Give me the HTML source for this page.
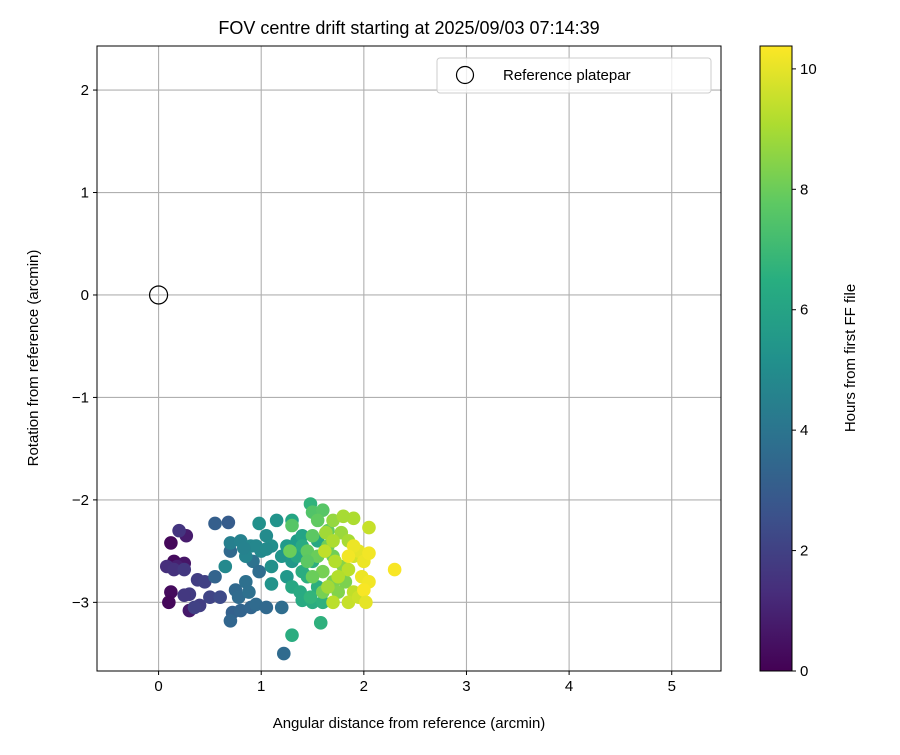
<!DOCTYPE html>
<html><head><meta charset="utf-8"><style>
body{margin:0;background:#fff}
text{font-family:"Liberation Sans","DejaVu Sans",sans-serif;fill:#000}
</style></head><body>
<svg id="chart" width="900" height="750" xmlns="http://www.w3.org/2000/svg">
<defs>
<linearGradient id="vir" x1="0" y1="1" x2="0" y2="0">
<stop offset="0" stop-color="#440154"/><stop offset="0.125" stop-color="#472d7b"/><stop offset="0.25" stop-color="#3b528b"/><stop offset="0.375" stop-color="#2c728e"/><stop offset="0.5" stop-color="#21918c"/><stop offset="0.625" stop-color="#28ae80"/><stop offset="0.75" stop-color="#5ec962"/><stop offset="0.875" stop-color="#addc30"/><stop offset="1" stop-color="#fde725"/>
</linearGradient>
<clipPath id="clip"><rect x="97" y="46" width="624" height="625"/></clipPath>
</defs>
<g id="grid"></g>
<g id="pts" clip-path="url(#clip)"></g>
<rect x="97" y="46" width="624" height="625" fill="none" stroke="#000" stroke-width="1"/>
<g id="axes"></g>
<text x="409" y="34" font-size="18" text-anchor="middle">FOV centre drift starting at 2025/09/03 07:14:39</text>
<text x="409" y="728" font-size="15" text-anchor="middle">Angular distance from reference (arcmin)</text>
<text transform="translate(38,358) rotate(-90)" font-size="15" text-anchor="middle">Rotation from reference (arcmin)</text>
<g>
<rect x="437" y="58" width="274" height="35" rx="3" fill="#fff" fill-opacity="0.8" stroke="#ccc"/>
<circle cx="465" cy="75" r="8.5" fill="none" stroke="#000" stroke-width="1.2"/>
<text x="503" y="80" font-size="15">Reference platepar</text>
</g>
<rect x="760" y="46" width="32" height="625" fill="url(#vir)" stroke="#000" stroke-width="1"/>
<g id="cbticks"></g>
<text transform="translate(855,358) rotate(-90)" font-size="15" text-anchor="middle">Hours from first FF file</text>
</svg>
<script>
const xTicks=[0,1,2,3,4,5];
const yTicks=[2,1,0,-1,-2,-3];
const cbTicks=[0,2,4,6,8,10];
const refPoint=[0,0];
const xs=[0.12,0.15,0.12,0.1,0.25,0.3,0.27,0.18,
0.2,0.08,0.15,0.25,0.3,0.25,0.38,0.45,0.4,0.5,0.35,0.6,
0.55,0.68,0.55,0.72,0.7,0.8,0.75,0.9,0.95,1.05,1.22,1.2,0.85,0.92,0.7,0.98,0.78,0.88,
0.7,0.8,0.85,0.9,1.0,1.05,1.1,0.98,1.15,0.95,1.05,0.65,1.2,1.1,1.1,1.25,1.3,1.25,1.35,0.83,
1.3,1.4,1.3,1.38,1.4,1.5,1.45,1.55,1.6,1.55,1.35,1.4,1.5,1.3,1.58,1.48,1.48,1.4,
1.3,1.5,1.6,1.55,1.65,1.5,1.45,1.55,1.65,1.7,1.6,1.7,1.5,1.45,1.75,1.82,1.6,1.28,1.8,
1.7,1.78,1.85,1.9,1.63,1.72,1.85,1.9,1.75,1.65,1.7,1.85,1.95,1.8,2.05,1.62,1.7,1.9,
1.95,2.0,2.05,1.98,2.05,2.0,2.02,2.3,1.9,1.85];
const ys=[-2.42,-2.6,-2.9,-3.0,-2.62,-3.08,-2.35,-2.65,
-2.3,-2.65,-2.68,-2.68,-2.92,-2.93,-2.78,-2.8,-3.03,-2.95,-3.05,-2.95,
-2.23,-2.22,-2.75,-3.1,-3.18,-3.08,-2.88,-3.05,-3.02,-3.05,-3.5,-3.05,-2.8,-2.6,-2.5,-2.7,-2.95,-2.9,
-2.42,-2.4,-2.55,-2.45,-2.5,-2.35,-2.45,-2.23,-2.2,-2.45,-2.48,-2.65,-2.55,-2.65,-2.82,-2.75,-2.6,-2.45,-2.4,-2.47,
-2.2,-2.35,-2.85,-2.9,-2.98,-3.0,-2.75,-2.85,-3.0,-2.4,-2.55,-2.7,-2.6,-3.32,-3.2,-2.04,-2.95,-2.45,
-2.25,-2.12,-2.1,-2.2,-2.3,-2.35,-2.5,-2.55,-2.45,-2.55,-2.7,-2.8,-2.75,-2.6,-2.9,-2.8,-2.9,-2.5,-2.65,
-2.2,-2.32,-2.4,-2.18,-2.32,-2.6,-2.68,-2.9,-2.75,-2.85,-3.0,-3.0,-2.95,-2.16,-2.27,-2.5,-2.4,-2.55,
-2.5,-2.6,-2.52,-2.75,-2.8,-2.88,-3.0,-2.68,-2.45,-2.55];
const hours=[0.2,0.3,0.3,0.2,0.6,0.7,0.8,0.9,
1.6,1.4,1.5,1.7,1.8,1.7,1.9,2.0,1.9,2.1,2.0,2.3,
3.1,3.0,3.3,3.2,3.4,3.3,3.5,3.4,3.6,3.5,3.6,3.7,3.8,3.9,3.5,3.7,3.6,3.8,
4.5,4.6,4.7,4.8,4.9,5.0,5.1,5.2,5.3,4.8,5.0,4.9,5.4,5.2,5.3,5.5,5.5,5.6,5.7,4.6,
6.1,6.0,6.2,6.3,6.3,6.4,6.5,6.5,6.6,6.2,6.1,6.4,6.5,6.4,6.6,6.7,6.8,6.3,
7.6,7.5,7.6,7.8,7.9,7.7,7.8,8.0,8.1,8.1,8.2,8.3,8.0,7.7,8.4,8.3,8.2,8.0,8.5,
8.7,8.8,9.0,9.1,8.9,9.2,9.3,9.4,9.2,8.9,9.3,9.5,9.6,9.0,9.5,9.4,9.1,9.7,
10.0,10.1,10.2,10.1,10.2,10.3,10.0,10.3,10.1,10.2];
const NS="http://www.w3.org/2000/svg";
const X0=-0.6,X1=5.48,Y0=-3.67,Y1=2.43,L=97,R=721,T=46,B=671;
function sx(v){return L+(v-X0)/(X1-X0)*(R-L);}
function sy(v){return B-(v-Y0)/(Y1-Y0)*(B-T);}
function cy(v){return 671-v/10.38*625;}
const vir=[[68,1,84],[72,40,120],[62,74,137],[49,104,142],[38,130,142],[31,158,137],[53,183,121],[110,206,88],[181,222,43],[253,231,37]];
function color(h){let t=Math.max(0,Math.min(1,h/10.38))*(vir.length-1);let i=Math.min(Math.floor(t),vir.length-2),f=t-i;
let c=vir[i].map((a,k)=>Math.round(a+(vir[i+1][k]-a)*f));return `rgb(${c[0]},${c[1]},${c[2]})`;}
function mk(tag,attrs,parent){const e=document.createElementNS(NS,tag);for(const k in attrs)e.setAttribute(k,attrs[k]);parent.appendChild(e);return e;}
const grid=document.getElementById('grid'),axes=document.getElementById('axes'),pts=document.getElementById('pts'),cb=document.getElementById('cbticks');
xTicks.forEach(v=>{const x=sx(v);
const g=mk('line',{x1:x,x2:x,y1:T,y2:B,stroke:'#b0b0b0','stroke-width':1.1},grid);


mk('line',{x1:x,x2:x,y1:B,y2:B+4,stroke:'#000'},axes);
const t=mk('text',{x:x,y:B+20,'font-size':15,'text-anchor':'middle'},axes);t.textContent=v;

});
yTicks.forEach(v=>{const y=sy(v);
const g=mk('line',{x1:L,x2:R,y1:y,y2:y,stroke:'#b0b0b0','stroke-width':1.1},grid);


mk('line',{x1:L-4,x2:L,y1:y,y2:y,stroke:'#000'},axes);
const t=mk('text',{x:L-8,y:y+5,'font-size':15,'text-anchor':'end'},axes);t.textContent=(v<0?'\u2212'+(-v):v);

});
for(let i=0;i<xs.length;i++){const c=mk('circle',{cx:sx(xs[i]),cy:sy(ys[i]),r:6.8,fill:color(hours[i])},pts);

}
const ref=mk('circle',{cx:sx(refPoint[0]),cy:sy(refPoint[1]),r:9,fill:'none',stroke:'#000','stroke-width':1.2},pts);


cbTicks.forEach(v=>{const y=cy(v);mk('line',{x1:792,x2:796,y1:y,y2:y,stroke:'#000'},cb);
const t=mk('text',{x:800,y:y+5,'font-size':15},cb);t.textContent=v;

});
</script>
</body></html>
